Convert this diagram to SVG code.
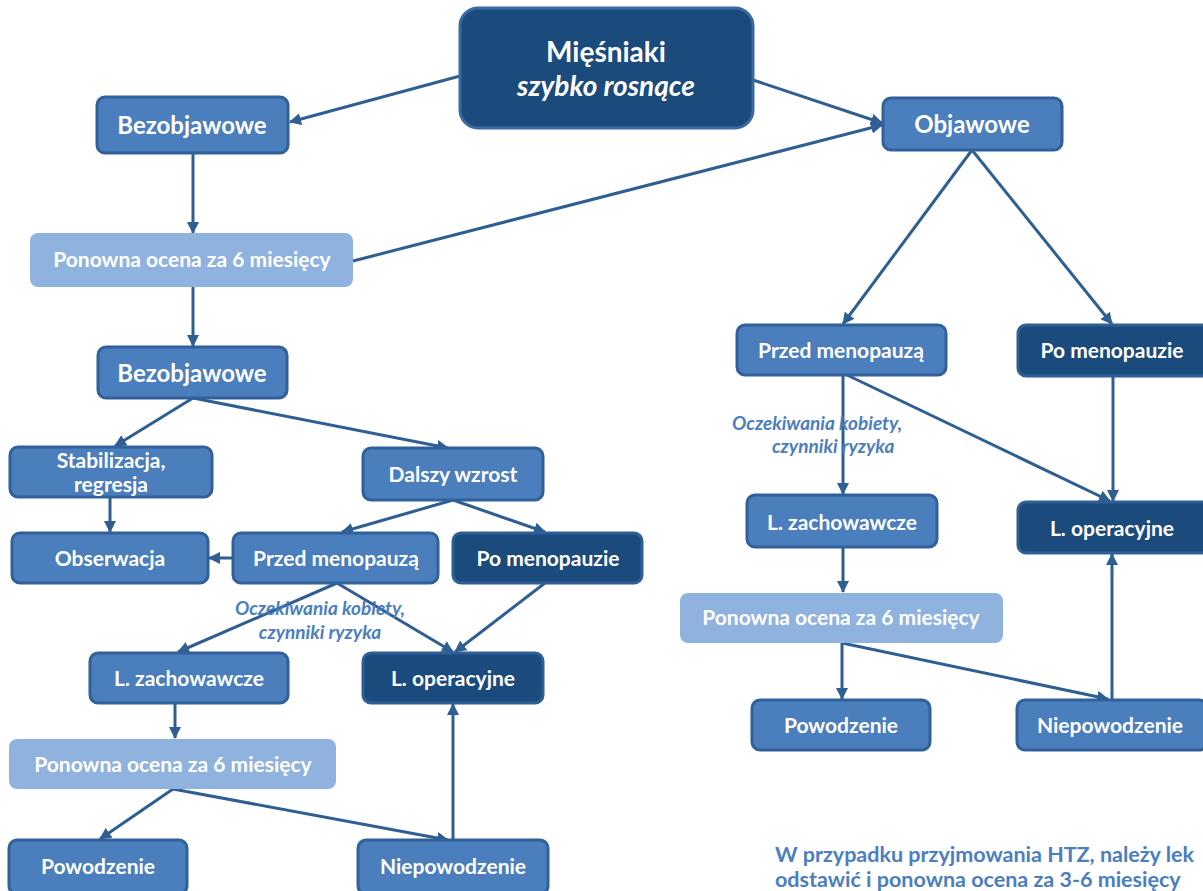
<svg xmlns="http://www.w3.org/2000/svg" width="1203" height="891" viewBox="0 0 1203 891">
  <defs>
    <marker id="arrow" viewBox="0 0 12 12" refX="11" refY="6" markerWidth="12" markerHeight="12" markerUnits="userSpaceOnUse" orient="auto">
      <path d="M0,0 L12,6 L0,12 z" fill="#2f5e93"/>
    </marker>
    <style>
      .mid { fill: #4a7ebd; stroke: #30619a; stroke-width: 3; }
      .dark { fill: #1b4a7d; stroke: #2f5f95; stroke-width: 3; }
      .light { fill: #8fb3de; stroke: none; }
      .top { fill: #1b4a7d; stroke: #3a6aa2; stroke-width: 3; }
      .lbl { font-family: Lato, "Open Sans", "Noto Sans", sans-serif; font-weight: bold; font-size: 21px; fill: #ffffff; text-anchor: middle; }
      .big { font-size: 24px; }
      .title { font-size: 28px; }
      .note { font-family: Lato, "Open Sans", "Noto Sans", sans-serif; font-style: italic; font-weight: bold; font-size: 19px; fill: #4a7ec0; }
      .foot { font-family: Lato, "Open Sans", "Noto Sans", sans-serif; font-weight: bold; font-size: 21.5px; fill: #4a7ec0; }
      .conn line { stroke: #2f5e93; stroke-width: 3; fill: none; marker-end: url(#arrow); }
    </style>
  </defs>

  <rect width="1203" height="891" fill="#ffffff"/>

  <!-- connectors -->
  <g id="connectors" class="conn">
    <line x1="460" y1="76" x2="290" y2="122"/>
    <line x1="753" y1="80" x2="882" y2="123"/>
    <line x1="353" y1="261" x2="882" y2="125"/>
    <line x1="193" y1="153" x2="193" y2="233"/>
    <line x1="193" y1="287" x2="193" y2="346"/>
    <line x1="193" y1="398" x2="115" y2="446"/>
    <line x1="193" y1="398" x2="448" y2="448"/>
    <line x1="110" y1="497" x2="110" y2="532"/>
    <line x1="233" y1="558" x2="209" y2="558"/>
    <line x1="453" y1="500" x2="342" y2="532"/>
    <line x1="453" y1="500" x2="545" y2="532"/>
    <line x1="337" y1="583" x2="178" y2="652"/>
    <line x1="337" y1="583" x2="453" y2="652"/>
    <line x1="545" y1="583" x2="455" y2="652"/>
    <line x1="175" y1="703" x2="175" y2="738"/>
    <line x1="173" y1="789" x2="100" y2="839"/>
    <line x1="173" y1="789" x2="448" y2="840"/>
    <line x1="453" y1="840" x2="453" y2="704"/>
    <line x1="972" y1="150" x2="843" y2="324"/>
    <line x1="972" y1="150" x2="1112" y2="324"/>
    <line x1="843" y1="375" x2="843" y2="494"/>
    <line x1="847" y1="375" x2="1110" y2="501"/>
    <line x1="1113" y1="376" x2="1113" y2="501"/>
    <line x1="843" y1="547" x2="843" y2="592"/>
    <line x1="842" y1="643" x2="842" y2="699"/>
    <line x1="842" y1="643" x2="1108" y2="699"/>
    <line x1="1112" y1="699" x2="1112" y2="554"/>
  </g>

  <!-- root -->
  <g id="n-root">
    <rect class="top" x="460" y="8" width="293" height="120" rx="18"/>
    <text class="lbl title" x="606" y="62">Mięśniaki</text>
    <text class="lbl title" x="606" y="96" font-style="italic">szybko rosnące</text>
  </g>

  <!-- left branch -->
  <g id="n-bezobjawowe-1">
    <rect class="mid" x="97" y="97" width="191" height="56" rx="8"/>
    <text class="lbl big" x="192" y="134">Bezobjawowe</text>
  </g>
  <g id="n-ocena-1">
    <rect class="light" x="30" y="233" width="323" height="54" rx="8"/>
    <text class="lbl" x="192" y="267">Ponowna ocena za 6 miesięcy</text>
  </g>
  <g id="n-bezobjawowe-2">
    <rect class="mid" x="98" y="347" width="189" height="51" rx="8"/>
    <text class="lbl big" x="192" y="382">Bezobjawowe</text>
  </g>
  <g id="n-stabilizacja">
    <rect class="mid" x="10" y="447" width="202" height="50" rx="8"/>
    <text class="lbl" x="111" y="468">Stabilizacja,</text>
    <text class="lbl" x="111" y="492">regresja</text>
  </g>
  <g id="n-dalszy">
    <rect class="mid" x="363" y="448" width="180" height="52" rx="8"/>
    <text class="lbl" x="453" y="482">Dalszy wzrost</text>
  </g>
  <g id="n-obserwacja">
    <rect class="mid" x="12" y="533" width="196" height="50" rx="8"/>
    <text class="lbl" x="110" y="566">Obserwacja</text>
  </g>
  <g id="n-przed-l">
    <rect class="mid" x="233" y="533" width="205" height="50" rx="8"/>
    <text class="lbl" x="336" y="566">Przed menopauzą</text>
  </g>
  <g id="n-po-l">
    <rect class="dark" x="453" y="533" width="189" height="50" rx="8"/>
    <text class="lbl" x="548" y="566">Po menopauzie</text>
  </g>
  <g id="note-l">
    <text class="note" x="320" y="615" text-anchor="middle">Oczekiwania kobiety,</text>
    <text class="note" x="320" y="639" text-anchor="middle">czynniki ryzyka</text>
  </g>
  <g id="n-zach-l">
    <rect class="mid" x="90" y="653" width="198" height="50" rx="8"/>
    <text class="lbl" x="189" y="686">L. zachowawcze</text>
  </g>
  <g id="n-oper-l">
    <rect class="dark" x="363" y="653" width="180" height="50" rx="8"/>
    <text class="lbl" x="453" y="686">L. operacyjne</text>
  </g>
  <g id="n-ocena-2">
    <rect class="light" x="9" y="739" width="327" height="50" rx="8"/>
    <text class="lbl" x="173" y="772">Ponowna ocena za 6 miesięcy</text>
  </g>
  <g id="n-powodzenie-l">
    <rect class="mid" x="9" y="840" width="178" height="54" rx="8"/>
    <text class="lbl" x="98" y="874">Powodzenie</text>
  </g>
  <g id="n-niepowodzenie-l">
    <rect class="mid" x="358" y="840" width="190" height="54" rx="8"/>
    <text class="lbl" x="453" y="874">Niepowodzenie</text>
  </g>

  <!-- right branch -->
  <g id="n-objawowe">
    <rect class="mid" x="883" y="98" width="179" height="52" rx="8"/>
    <text class="lbl big" x="972" y="133">Objawowe</text>
  </g>
  <g id="n-przed-r">
    <rect class="mid" x="737" y="325" width="209" height="50" rx="8"/>
    <text class="lbl" x="841" y="358">Przed menopauzą</text>
  </g>
  <g id="n-po-r">
    <rect class="dark" x="1018" y="325" width="192" height="51" rx="8"/>
    <text class="lbl" x="1112" y="358">Po menopauzie</text>
  </g>
  <g id="note-r">
    <text class="note" x="732" y="430">Oczekiwania  kobiety,</text>
    <text class="note" x="772" y="453">czynniki  ryzyka</text>
  </g>
  <g id="n-zach-r">
    <rect class="mid" x="747" y="495" width="190" height="52" rx="8"/>
    <text class="lbl" x="842" y="530">L. zachowawcze</text>
  </g>
  <g id="n-oper-r">
    <rect class="dark" x="1018" y="502" width="192" height="51" rx="8"/>
    <text class="lbl" x="1112" y="536">L. operacyjne</text>
  </g>
  <g id="n-ocena-r">
    <rect class="light" x="680" y="593" width="323" height="50" rx="8"/>
    <text class="lbl" x="841" y="625">Ponowna ocena za 6 miesięcy</text>
  </g>
  <g id="n-powodzenie-r">
    <rect class="mid" x="752" y="700" width="178" height="50" rx="8"/>
    <text class="lbl" x="841" y="733">Powodzenie</text>
  </g>
  <g id="n-niepowodzenie-r">
    <rect class="mid" x="1017" y="700" width="190" height="50" rx="8"/>
    <text class="lbl" x="1110" y="733">Niepowodzenie</text>
  </g>

  <!-- footnote -->
  <g id="footnote">
    <text class="foot" x="775" y="862">W przypadku przyjmowania HTZ, należy lek</text>
    <text class="foot" x="775" y="887">odstawić i ponowna ocena za 3-6 miesięcy</text>
  </g>
</svg>
